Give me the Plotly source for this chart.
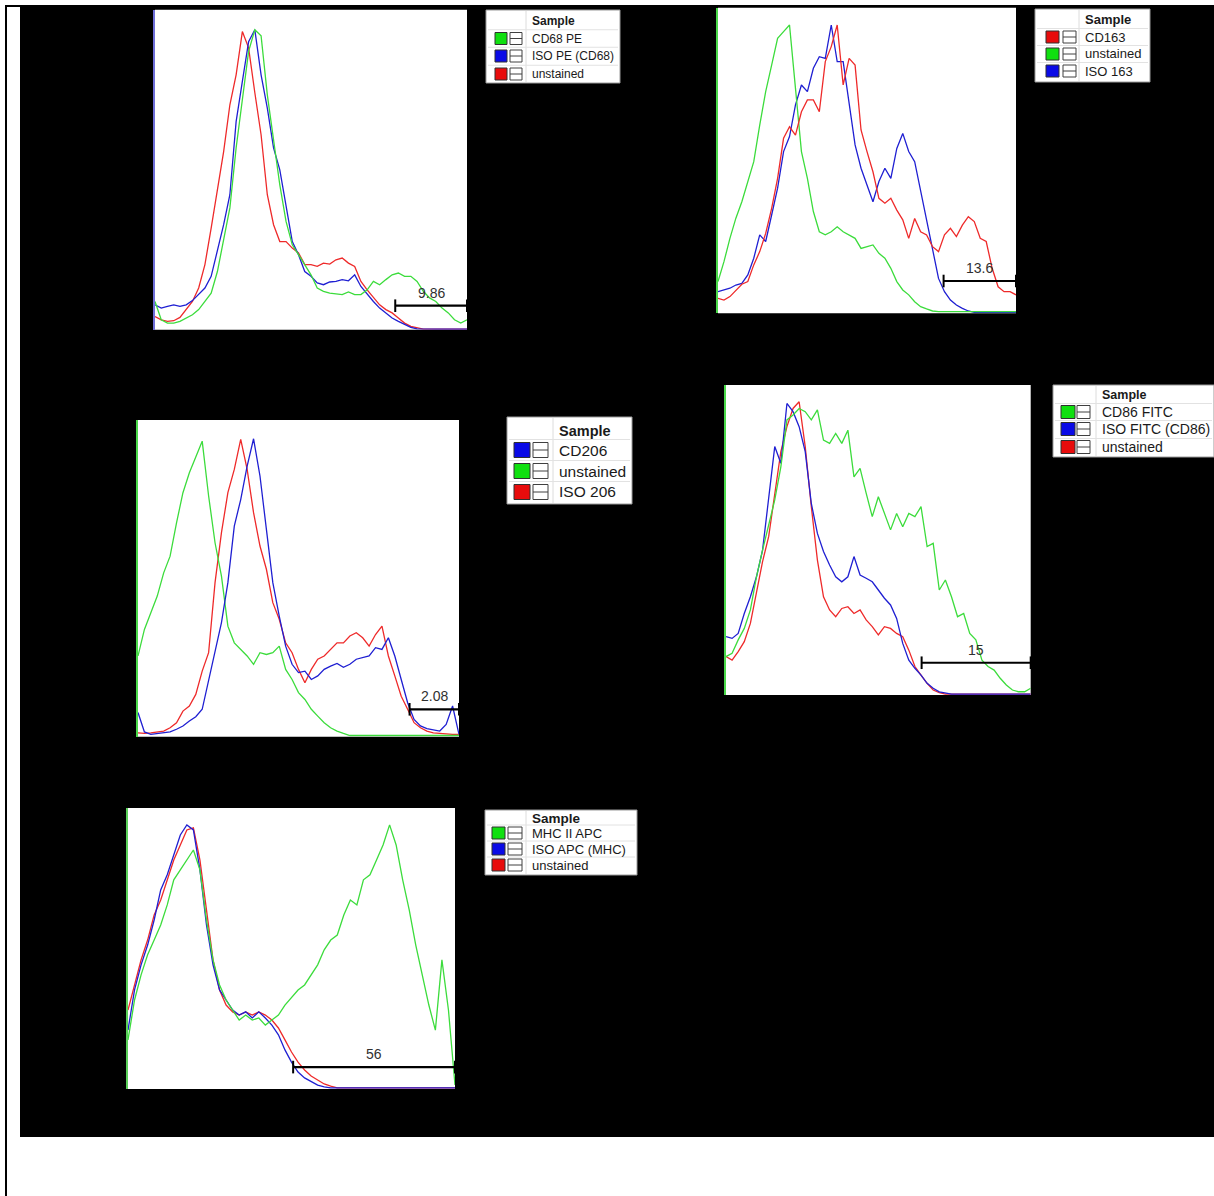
import plotly.graph_objects as go

W, H = 1214, 1196

# ---------------------------------------------------------------------------
# Histogram data: fluorescence channel (0-100, linear bins) vs. % of max
# ---------------------------------------------------------------------------
channel = list(range(0, 101, 2))

# CD68 panel
cd68_pe = [9.4, 3.3, 2.2, 2.2, 2.8, 3.9, 5.0, 6.7, 9.4, 12.2, 19.4, 29.4, 40.6, 60.6, 77.2, 92.8,
           100.0, 98.0, 78.3, 62.8, 48.3, 36.1, 28.3, 25.0, 21.7, 18.3, 13.9, 12.8, 12.2, 11.9, 11.7,
           12.6, 11.7, 11.7, 13.3, 16.1, 15.0, 16.7, 18.3, 18.9, 17.8, 17.8, 16.1, 12.8, 10.6, 9.4,
           7.2, 5.6, 3.3, 2.2, 3.3]
iso_pe_cd68 = [8.3, 7.2, 7.8, 8.3, 7.8, 8.3, 9.7, 11.7, 13.9, 17.8, 26.1, 35.0, 45.0, 69.4, 82.8, 96.0,
               100.0, 85.0, 73.9, 60.6, 53.3, 40.6, 29.4, 25.0, 19.4, 17.8, 15.6, 15.0, 15.9, 16.1,
               16.7, 16.3, 18.3, 14.4, 11.7, 9.4, 7.2, 5.6, 3.9, 2.8, 1.7, 0.8, 0.3, 0.2, 0.2, 0.2,
               0.2, 0.2, 0.2, 0.2, 0.2]
unstained_cd68 = [4.4, 3.3, 2.8, 3.0, 4.1, 6.7, 9.4, 13.9, 21.7, 33.9, 47.2, 59.4, 75.0, 85.0, 99.4,
                  94.0, 79.0, 65.0, 45.0, 35.0, 29.4, 29.4, 27.2, 25.6, 21.7, 21.7, 21.1, 22.2, 21.9,
                  23.3, 23.9, 22.2, 21.1, 16.1, 13.3, 10.6, 8.3, 6.7, 5.6, 3.9, 2.2, 1.1, 0.6, 0.2,
                  0.2, 0.2, 0.2, 0.2, 0.2, 0.2, 0.2]

# CD163 panel
cd163 = [5.2, 4.6, 5.8, 8.1, 10.1, 11.0, 16.8, 21.4, 27.7, 36.4, 46.8, 60.7, 64.7, 61.8, 69.9, 74.0,
         74.0, 69.9, 87.3, 92.5, 100.0, 79.2, 88.4, 86.1, 63.6, 56.1, 49.1, 39.9, 38.2, 39.9, 35.8,
         32.4, 26.0, 32.9, 28.3, 27.2, 23.1, 21.4, 27.2, 29.5, 26.6, 30.6, 33.5, 31.8, 26.0, 24.9,
         15.6, 9.2, 7.5, 7.5, 6.4]
unstained_163 = [11.0, 17.9, 26.0, 33.0, 38.7, 45.7, 52.6, 65.3, 76.9, 86.1, 95.4, 97.7, 100.0, 78.0,
                 56.1, 46.8, 35.3, 28.3, 27.2, 28.3, 30.0, 28.3, 27.2, 26.0, 22.5, 23.1, 23.7, 20.8,
                 19.1, 15.6, 11.0, 8.1, 6.4, 4.0, 2.3, 1.5, 0.8, 0.6, 0.6, 0.6, 0.6, 0.6, 0.6, 0.6,
                 0.6, 0.6, 0.6, 0.6, 0.6, 0.6, 0.6]
iso_163 = [7.5, 8.1, 8.7, 9.8, 10.4, 13.3, 19.1, 27.2, 24.9, 34.1, 43.4, 56.1, 61.3, 72.3, 79.2, 76.9,
           85.0, 89.0, 88.4, 100.0, 87.3, 87.3, 72.3, 58.4, 50.3, 44.5, 38.7, 45.7, 50.3, 46.8, 57.2,
           62.4, 56.1, 52.6, 42.2, 31.8, 22.5, 12.1, 7.5, 4.6, 2.9, 1.7, 0.8, 0.3, 0.3, 0.3, 0.3,
           0.3, 0.3, 0.3, 0.3]

# CD206 panel
cd206 = [8.1, 1.6, 0.8, 1.0, 1.3, 1.6, 2.5, 3.6, 5.3, 6.7, 9.2, 19.2, 28.2, 38.3, 51.7, 70.7, 79.6,
         90.8, 100.0, 87.5, 69.6, 51.7, 40.5, 30.4, 24.3, 21.5, 22.0, 19.2, 20.4, 22.6, 23.7, 24.6,
         23.3, 24.3, 26.0, 26.6, 27.1, 29.9, 29.3, 33.2, 27.1, 19.2, 11.4, 5.8, 3.6, 2.7, 2.2, 1.9,
         4.1, 10.3, 0.8]
unstained_206 = [27.1, 36.0, 41.6, 47.2, 55.0, 60.6, 71.8, 81.9, 88.6, 94.2, 99.2, 80.8, 65.1, 53.9,
                 37.1, 31.5, 29.3, 27.1, 24.3, 28.2, 27.6, 28.2, 30.4, 22.6, 19.2, 14.8, 12.5, 9.2,
                 6.9, 4.7, 3.0, 1.9, 1.1, 0.4, 0.4, 0.4, 0.4, 0.4, 0.4, 0.4, 0.4, 0.4, 0.4, 0.4, 0.4,
                 0.4, 0.4, 0.4, 0.4, 0.4, 0.4]
iso_206 = [1.3, 1.1, 1.3, 1.6, 1.9, 3.0, 4.7, 8.6, 10.3, 14.2, 22.0, 28.2, 51.7, 68.5, 81.9, 89.7,
           99.8, 89.7, 75.2, 64.0, 56.2, 45.0, 39.4, 31.5, 28.2, 22.6, 18.1, 22.6, 26.0, 27.1, 29.3,
           31.5, 31.5, 33.8, 34.9, 33.2, 30.4, 34.3, 37.1, 27.1, 20.4, 13.6, 9.2, 4.7, 3.0, 1.9,
           1.3, 1.1, 0.8, 0.8, 0.8]

# CD86 panel
cd86_fitc = [13.1, 14.2, 18.8, 22.7, 29.0, 40.3, 49.4, 58.5, 66.5, 77.8, 93.8, 95.5, 97.7, 96.6,
             93.8, 97.2, 86.9, 85.8, 89.2, 85.8, 90.3, 74.4, 77.3, 68.8, 60.8, 67.6, 61.9, 56.3,
             61.9, 57.4, 61.9, 60.8, 64.2, 50.6, 51.7, 35.8, 39.2, 33.5, 26.7, 27.8, 21.0, 18.8,
             11.9, 9.7, 8.5, 5.7, 3.4, 1.7, 1.1, 1.1, 2.3]
iso_fitc_cd86 = [19.9, 19.3, 21.0, 27.8, 33.5, 40.3, 49.4, 66.5, 84.7, 79.0, 99.4, 96.6, 91.5, 83.0,
                 65.3, 55.1, 48.9, 44.3, 40.3, 38.6, 40.3, 47.2, 40.9, 39.8, 38.6, 35.8, 33.0,
                 30.7, 26.1, 17.6, 11.9, 9.1, 6.8, 4.0, 2.3, 1.1, 0.6, 0.3, 0.3, 0.3, 0.3, 0.3,
                 0.3, 0.3, 0.3, 0.3, 0.3, 0.3, 0.3, 0.3, 0.3]
unstained_cd86 = [13.1, 11.9, 14.8, 18.2, 24.4, 34.7, 45.5, 54.0, 68.8, 83.0, 91.5, 97.7, 100.0,
                  84.7, 64.2, 46.0, 33.5, 29.0, 26.7, 29.5, 30.1, 27.8, 29.0, 25.6, 23.3, 20.5,
                  23.3, 22.7, 21.0, 19.9, 15.3, 9.7, 6.8, 4.0, 1.7, 0.8, 0.3, 0.3, 0.3, 0.3, 0.3,
                  0.3, 0.3, 0.3, 0.3, 0.3, 0.3, 0.3, 0.3, 0.3, 0.3]

# MHC II panel
mhc_ii_apc = [18.6, 33.7, 43.2, 50.8, 56.4, 62.1, 69.7, 79.2, 83.0, 86.7, 90.5, 83.0, 64.0, 48.9,
              39.4, 33.7, 29.9, 26.1, 28.0, 26.1, 26.9, 24.2, 26.1, 28.0, 31.8, 34.5, 37.5, 39.4,
              43.2, 47.0, 52.7, 56.4, 58.3, 65.9, 71.6, 69.7, 79.2, 81.1, 86.7, 92.4, 100.0, 92.4,
              79.2, 67.8, 54.5, 43.2, 31.8, 22.3, 48.9, 29.9, 1.5]
iso_apc_mhc = [22.3, 37.5, 47.0, 54.5, 64.0, 75.4, 81.1, 88.6, 96.2, 100.0, 98.1, 83.0, 62.1, 47.0,
               37.5, 33.7, 29.9, 28.0, 29.2, 26.9, 29.2, 26.9, 24.2, 20.5, 14.8, 10.2, 6.4, 4.2,
               2.7, 1.5, 0.8, 0.4, 0.4, 0.4, 0.4, 0.4, 0.4, 0.4, 0.4, 0.4, 0.4, 0.4, 0.4, 0.4, 0.4,
               0.4, 0.4, 0.4, 0.4, 0.4, 0.4]
unstained_mhc = [29.9, 39.4, 48.9, 56.4, 65.9, 71.6, 79.2, 86.7, 92.4, 98.1, 98.9, 86.7, 67.8, 48.9,
                 37.5, 31.8, 29.2, 28.0, 29.2, 28.0, 29.2, 28.0, 26.1, 23.1, 18.6, 14.0, 10.2, 7.2,
                 4.9, 3.4, 1.9, 1.1, 0.4, 0.4, 0.4, 0.4, 0.4, 0.4, 0.4, 0.4, 0.4, 0.4, 0.4, 0.4, 0.4,
                 0.4, 0.4, 0.4, 0.4, 0.4, 0.4]

# Sample names per panel (legend order) and the matching series
sample_names = [
    ["CD68 PE", "ISO PE (CD68)", "unstained"],
    ["CD163", "unstained", "ISO 163"],
    ["CD206", "unstained", "ISO 206"],
    ["CD86 FITC", "ISO FITC (CD86)", "unstained"],
    ["MHC II APC", "ISO APC (MHC)", "unstained"],
]
sample_series = [
    [cd68_pe, iso_pe_cd68, unstained_cd68],
    [cd163, unstained_163, iso_163],
    [cd206, unstained_206, iso_206],
    [cd86_fitc, iso_fitc_cd86, unstained_cd86],
    [mhc_ii_apc, iso_apc_mhc, unstained_mhc],
]
sample_colors = [
    ["green", "blue", "red"],
    ["red", "green", "blue"],
    ["blue", "green", "red"],
    ["green", "blue", "red"],
    ["green", "blue", "red"],
]

# Positive gates: start channel, drawing height, % positive
gate_start = [77.0, 75.7, 84.6, 64.2, 50.5]
gate_level = [8.0, 11.2, 9.2, 11.0, 8.3]
gate_label = ["9.86", "13.6", "2.08", "15", "56"]

# ---------------------------------------------------------------------------
# Styling / layout
# ---------------------------------------------------------------------------
LINE_COLORS = {"green": "#3cdc3c", "blue": "#1f1fd2", "red": "#ee2a2a"}
SWATCH_COLORS = {"green": "#10e010", "blue": "#0a0ae6", "red": "#e80c0c"}
FONT = "Arial, Liberation Sans, sans-serif"

# plot areas in page pixels: left, top, right, bottom
plot_boxes = [
    (155, 9.7, 467, 329.7),
    (718, 7.7, 1016, 313.3),
    (138, 420, 459, 736.7),
    (726, 385, 1030.7, 695),
    (128, 808, 455, 1089),
]
y_tops = [106.7, 106.0, 106.3, 105.7, 106.4]
edge_colors = ["#6f6fd8", "#4ad84a", "#4ad84a", "#4ad84a", "#5ad05a"]

# legend boxes: box (l, t, r, b), swatch x, icon x, text x, header y, row ys, half size, fonts
legend_specs = [
    dict(box=(486, 10, 620, 83), sw=(495, 507), ic=(510, 522), tx=530, hy=21,
         rows=(38.5, 56, 74), half=6, fs=12, hfs=12),
    dict(box=(1035, 9, 1150, 82), sw=(1046, 1059), ic=(1063, 1076), tx=1083, hy=20,
         rows=(37, 54, 71), half=6, fs=13, hfs=13),
    dict(box=(507, 417, 632, 504), sw=(514, 530), ic=(533, 548), tx=557, hy=431,
         rows=(450, 471, 492), half=7.5, fs=15.5, hfs=14.5),
    dict(box=(1053, 385, 1214, 457), sw=(1061, 1075), ic=(1077, 1090), tx=1100, hy=395,
         rows=(412, 429, 447), half=6.5, fs=14, hfs=12.5),
    dict(box=(485, 810, 637, 875), sw=(492, 505), ic=(508, 522), tx=530, hy=818,
         rows=(833, 849, 865), half=6, fs=13, hfs=13.5),
]


def fx(px):
    return px / W


def fy(py):
    return 1 - py / H


def paper_rect(x0, y0, x1, y1, fill, line_color=None, line_width=0):
    return dict(type="rect", xref="paper", yref="paper", layer="below",
                x0=fx(x0), x1=fx(x1), y0=fy(y1), y1=fy(y0), fillcolor=fill,
                line=dict(color=line_color or fill, width=line_width))


def paper_line(x0, y0, x1, y1, color, width=1):
    return dict(type="line", xref="paper", yref="paper", layer="above",
                x0=fx(x0), x1=fx(x1), y0=fy(y0), y1=fy(y1),
                line=dict(color=color, width=width))


shapes = []
annotations = []

# black mounting board and its frame
shapes.append(paper_rect(20, 5, W, 1137, "black"))
shapes.append(paper_rect(5, 5, W, 7, "black"))
shapes.append(paper_rect(5, 5, 7, H, "black"))

# white plot areas
for (l, t, r, b) in plot_boxes:
    shapes.append(paper_rect(l, t, r, b, "white"))

fig = go.Figure()
layout = dict(width=W, height=H, margin=dict(l=0, r=0, t=0, b=0),
              paper_bgcolor="white", plot_bgcolor="white", showlegend=False)

for i, (l, t, r, b) in enumerate(plot_boxes):
    sfx = "" if i == 0 else str(i + 1)
    xa, ya = "x" + sfx, "y" + sfx
    layout["xaxis" + sfx] = dict(domain=[fx(l), fx(r)], range=[0, 100], anchor=ya,
                                 showgrid=False, zeroline=False, showticklabels=False,
                                 ticks="", showline=False, fixedrange=True)
    layout["yaxis" + sfx] = dict(domain=[fy(b), fy(t)], range=[0, y_tops[i]], anchor=xa,
                                 showgrid=False, zeroline=False, showticklabels=False,
                                 ticks="", showline=True, linecolor=edge_colors[i],
                                 linewidth=2, fixedrange=True)

    # histograms (first legend entry drawn last so it sits on top)
    for k in range(2, -1, -1):
        fig.add_trace(go.Scatter(
            x=channel, y=sample_series[i][k], mode="lines", name=sample_names[i][k],
            line=dict(color=LINE_COLORS[sample_colors[i][k]], width=1.3),
            xaxis=xa, yaxis=ya, hoverinfo="skip"))

    # positive gate bar
    fig.add_trace(go.Scatter(
        x=[gate_start[i], 100], y=[gate_level[i], gate_level[i]], mode="lines+markers",
        line=dict(color="black", width=2.2), cliponaxis=False,
        marker=dict(symbol="line-ns", size=9, line=dict(color="black", width=2)),
        xaxis=xa, yaxis=ya, hoverinfo="skip"))
    annotations.append(dict(
        xref=xa, yref=ya, x=(gate_start[i] + 100) / 2, y=gate_level[i], yshift=13,
        text=gate_label[i], showarrow=False, xanchor="center", yanchor="middle",
        font=dict(family=FONT, size=14, color="#303030")))

# sample legends
for i, spec in enumerate(legend_specs):
    l, t, r, b = spec["box"]
    shapes.append(paper_rect(l, t, r, b, "white", "#9a9a9a", 1))
    # light table rules
    col_x = spec["tx"] - 4
    shapes.append(paper_line(col_x, t + 1, col_x, b - 1, "#dcdcdc"))
    row_gap = spec["rows"][1] - spec["rows"][0]
    for ry in spec["rows"]:
        shapes.append(paper_line(l + 2, ry - row_gap / 2, r - 2, ry - row_gap / 2, "#e2e2e2"))
    annotations.append(dict(
        xref="paper", yref="paper", x=fx(spec["tx"]), y=fy(spec["hy"]),
        text="<b>Sample</b>", showarrow=False, xanchor="left", yanchor="middle",
        font=dict(family=FONT, size=spec["hfs"], color="#1a1a1a")))
    hs = spec["half"]
    for k, ry in enumerate(spec["rows"]):
        sx0, sx1 = spec["sw"]
        shapes.append(paper_rect(sx0, ry - hs, sx1, ry + hs,
                                 SWATCH_COLORS[sample_colors[i][k]], "#303030", 1))
        ix0, ix1 = spec["ic"]
        shapes.append(paper_rect(ix0, ry - hs, ix1, ry + hs, "white", "#404040", 1))
        shapes.append(paper_line(ix0, ry, ix1, ry, "#404040", 1))
        annotations.append(dict(
            xref="paper", yref="paper", x=fx(spec["tx"]), y=fy(ry),
            text=sample_names[i][k], showarrow=False, xanchor="left", yanchor="middle",
            font=dict(family=FONT, size=spec["fs"], color="#1a1a1a")))

layout["shapes"] = shapes
layout["annotations"] = annotations
fig.update_layout(**layout)

fig.write_html("out.html")
